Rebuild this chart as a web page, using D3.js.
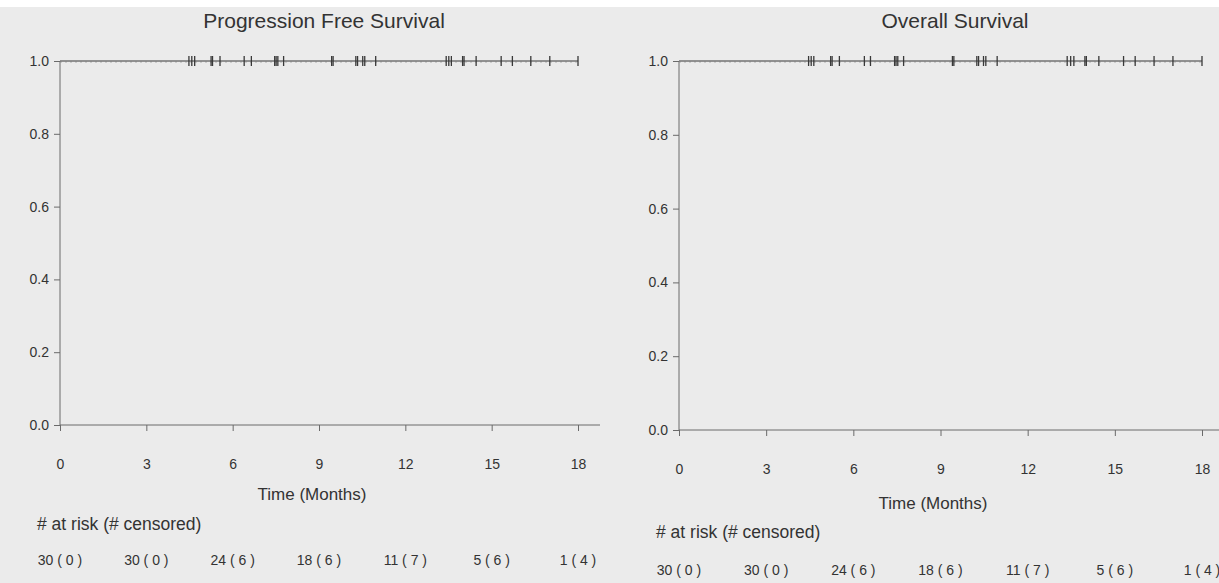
<!DOCTYPE html>
<html>
<head>
<meta charset="utf-8">
<script src="https://cdn.jsdelivr.net/npm/d3@7"></script>
<style>
  html, body { margin: 0; padding: 0; background: #ebebeb; }
  svg { display: block; }
  text { font-family: "Liberation Sans", Arial, sans-serif; fill: #333; }
</style>
</head>
<body>
<svg id="chart" width="1219" height="583"></svg>
<script>
// Time axis ticks (months) and survival axis ticks
const timeTicks = [0, 3, 6, 9, 12, 15, 18];
const survivalTicks = [0.0, 0.2, 0.4, 0.6, 0.8, 1.0];

// Number at risk and number censored in each 3-month interval
const atRisk = [30, 30, 24, 18, 11, 5, 1];
const censored = [0, 0, 6, 6, 7, 6, 4];

// Kaplan-Meier step points (no events observed)
const pfsTimes = [0, 18];
const pfsSurvival = [1.0, 1.0];
const osTimes = [0, 18];
const osSurvival = [1.0, 1.0];

// Censoring times (months)
const pfsCensorTimes = [4.48, 4.58, 4.68, 5.25, 5.30, 5.56,
  6.40, 6.65, 7.46, 7.51, 7.57, 7.77,
  9.44, 9.49, 10.28, 10.34, 10.52, 10.59, 10.97,
  13.42, 13.51, 13.60, 13.99, 14.04, 14.46,
  15.33, 15.72, 16.36, 17.02, 18.0];
const osCensorTimes = [4.46, 4.55, 4.64, 5.22, 5.27, 5.52,
  6.38, 6.59, 7.42, 7.47, 7.53, 7.73,
  9.41, 9.46, 10.25, 10.31, 10.48, 10.56, 10.95,
  13.36, 13.48, 13.59, 13.97, 14.02, 14.45,
  15.30, 15.70, 16.35, 17.00, 18.0];

const svg = d3.select("#chart");

// thin white band along the top edge
svg.append("rect").attr("x", 0).attr("y", 0).attr("width", 1219).attr("height", 7).attr("fill", "#ffffff");

const panels = [
  { title: "Progression Free Survival", times: pfsTimes, surv: pfsSurvival, cens: pfsCensorTimes,
    left: 60, right: 578, top: 61, bottom: 425, axisEnd: 600, titleX: 324,
    tickLabelY: 469, xTitleX: 312, xTitleY: 500, riskHeadY: 530, riskY: 565 },
  { title: "Overall Survival", times: osTimes, surv: osSurvival, cens: osCensorTimes,
    left: 679, right: 1202, top: 61, bottom: 430, axisEnd: 1219, titleX: 955,
    tickLabelY: 474, xTitleX: 933, xTitleY: 509, riskHeadY: 538, riskY: 575 }
];

const axisColor = "#6a6a6a";
const curveColor = "#383838";

panels.forEach(p => {
  const g = svg.append("g");
  const x = d3.scaleLinear().domain([0, 18]).range([p.left, p.right]);
  const y = d3.scaleLinear().domain([0, 1]).range([p.bottom, p.top]);

  // title
  g.append("text").attr("x", p.titleX).attr("y", 28).attr("text-anchor", "middle")
    .style("font-size", "21px").text(p.title);

  // y axis
  const yAxis = d3.axisLeft(y).tickValues(survivalTicks).tickFormat(d3.format(".1f"))
    .tickSize(6).tickPadding(5);
  const ya = g.append("g").attr("transform", `translate(${p.left},0)`).call(yAxis);
  ya.select(".domain").remove();
  ya.selectAll("line").attr("stroke", axisColor);
  ya.selectAll("text").style("font-size", "14px").attr("fill", "#333")
    .style("font-family", "'Liberation Sans', Arial, sans-serif");
  g.append("line").attr("x1", p.left).attr("x2", p.left).attr("y1", p.top).attr("y2", p.bottom)
    .attr("stroke", axisColor).attr("stroke-width", 1);

  // x axis
  const xAxis = d3.axisBottom(x).tickValues(timeTicks).tickSize(6).tickPadding(0).tickFormat(d3.format("d"));
  const xa = g.append("g").attr("transform", `translate(0,${p.bottom})`).call(xAxis);
  xa.select(".domain").remove();
  xa.selectAll("line").attr("stroke", axisColor);
  xa.selectAll("text").attr("y", p.tickLabelY - p.bottom).attr("dy", 0)
    .style("font-size", "14px").attr("fill", "#333")
    .style("font-family", "'Liberation Sans', Arial, sans-serif");
  g.append("line").attr("x1", p.left).attr("x2", p.axisEnd).attr("y1", p.bottom).attr("y2", p.bottom)
    .attr("stroke", axisColor).attr("stroke-width", 1);

  // x axis title
  g.append("text").attr("x", p.xTitleX).attr("y", p.xTitleY).attr("text-anchor", "middle")
    .style("font-size", "17px").text("Time (Months)");

  // survival curve
  const pts = p.times.map((t, i) => [t, p.surv[i]]);
  const line = d3.line().x(d => x(d[0])).y(d => y(d[1])).curve(d3.curveStepAfter);
  g.append("path").attr("d", line(pts)).attr("fill", "none")
    .attr("stroke", curveColor).attr("stroke-width", 1.2);
  g.append("path").attr("d", line(pts)).attr("fill", "none")
    .attr("stroke", "#888").attr("stroke-width", 1).attr("stroke-dasharray", "2,3")
    .attr("transform", "translate(0,0.8)");

  // censor marks: survival stays at the last step value
  const survAt = t => {
    let s = p.surv[0];
    p.times.forEach((tt, i) => { if (tt <= t) s = p.surv[i]; });
    return s;
  };
  g.selectAll("line.cens").data(p.cens).enter().append("line").attr("class", "cens")
    .attr("x1", d => x(d)).attr("x2", d => x(d))
    .attr("y1", d => y(survAt(d)) - 5).attr("y2", d => y(survAt(d)) + 5)
    .attr("stroke", curveColor).attr("stroke-width", 1.3);

  // number-at-risk table
  g.append("text").attr("x", p.left - 23).attr("y", p.riskHeadY)
    .style("font-size", "17.5px").text("# at risk (# censored)");
  g.selectAll("text.risk").data(timeTicks).enter().append("text").attr("class", "risk")
    .attr("x", d => x(d)).attr("y", p.riskY).attr("text-anchor", "middle")
    .style("font-size", "14px")
    .text((d, i) => `${atRisk[i]} ( ${censored[i]} )`);
});
</script>
</body>
</html>
